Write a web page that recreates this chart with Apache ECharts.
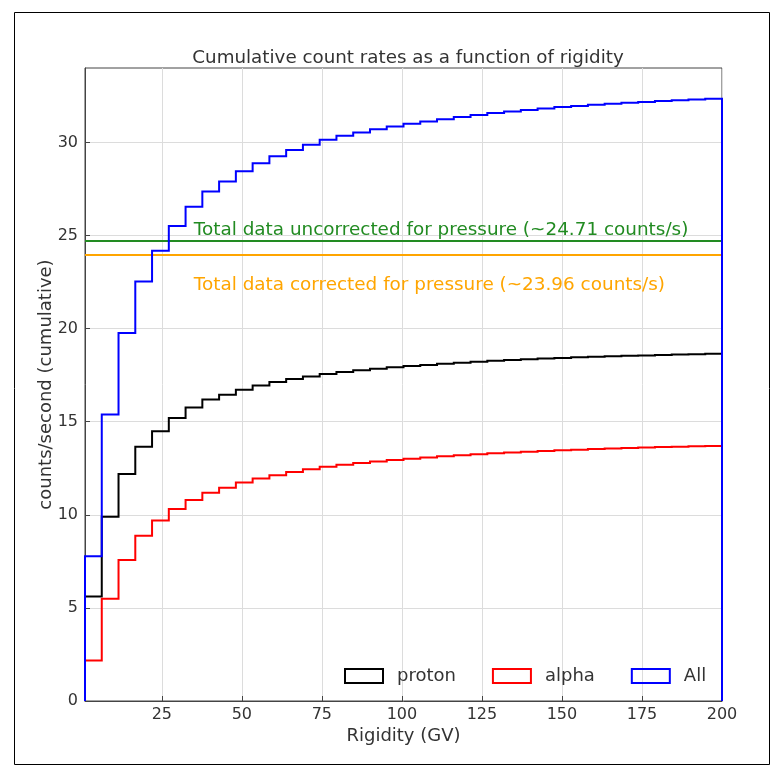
<!DOCTYPE html>
<html>
<head>
<meta charset="utf-8">
<script src="https://cdn.jsdelivr.net/npm/echarts@6/dist/echarts.min.js"></script>
<style>
  html, body { margin: 0; padding: 0; background: #fff; }
  #chart { width: 777px; height: 771px; }
</style>
</head>
<body>
<div id="chart"></div>
<script>
// Rigidity range covered by the cumulative histogram bins (GV)
const rigidityMin = 1;
const rigidityMax = 200;

// Cumulative count rates per bin (counts/s), 38 equal-width bins
const protonRates = [
  5.61, 9.90, 12.19, 13.65, 14.49, 15.20, 15.76, 16.19, 16.45, 16.72,
  16.94, 17.13, 17.29, 17.43, 17.57, 17.67, 17.76, 17.84, 17.92, 17.99,
  18.05, 18.11, 18.17, 18.22, 18.27, 18.31, 18.35, 18.39, 18.43, 18.46,
  18.49, 18.52, 18.54, 18.56, 18.59, 18.61, 18.63, 18.65
];
const alphaRates = [
  2.17, 5.49, 7.58, 8.88, 9.70, 10.31, 10.79, 11.18, 11.45, 11.74,
  11.95, 12.13, 12.30, 12.45, 12.58, 12.69, 12.78, 12.87, 12.94, 13.01,
  13.08, 13.14, 13.20, 13.26, 13.31, 13.35, 13.39, 13.43, 13.47, 13.50,
  13.53, 13.56, 13.59, 13.62, 13.64, 13.66, 13.68, 13.70
];
const allRates = [
  7.78, 15.39, 19.77, 22.53, 24.19, 25.51, 26.55, 27.37, 27.90, 28.46,
  28.89, 29.26, 29.59, 29.88, 30.15, 30.36, 30.54, 30.71, 30.86, 31.00,
  31.13, 31.25, 31.37, 31.48, 31.58, 31.66, 31.74, 31.82, 31.90, 31.96,
  32.02, 32.08, 32.13, 32.18, 32.23, 32.27, 32.31, 32.35
];

// Measured totals (counts/s)
const uncorrectedTotal = 24.71;
const correctedTotal = 23.96;

// Axis ticks
const xTicks = [25, 50, 75, 100, 125, 150, 175, 200];
const yTicks = [0, 5, 10, 15, 20, 25, 30];

const FONT = 'DejaVu Sans';
const TEXT = '#333';

// Outline of a step histogram: rises from zero at the first edge,
// runs across each bin, and drops back to zero at the last edge.
function stepOutline(values) {
  const w = (rigidityMax - rigidityMin) / values.length;
  const pts = [[rigidityMin, 0]];
  values.forEach((v, i) => {
    pts.push([rigidityMin + i * w, v]);
    pts.push([rigidityMin + (i + 1) * w, v]);
  });
  pts.push([rigidityMax, 0]);
  return pts;
}

// Each outline is drawn as one polyline so that the small risers of the
// upper bins are kept (the plain line series merges sub-2px segments).
function stepSeries(name, values, color) {
  const outline = stepOutline(values);
  return {
    name: name, type: 'custom', z: 3,
    coordinateSystem: 'cartesian2d',
    data: outline,
    encode: { x: 0, y: 1 },
    itemStyle: { color: color },
    renderItem: function (params, api) {
      if (params.dataIndex !== 0) return null;
      const pts = outline.map(p => api.coord(p));
      return {
        type: 'polyline',
        shape: { points: pts },
        style: { stroke: color, lineWidth: 2, fill: null, lineJoin: 'miter' },
        silent: true
      };
    }
  };
}

function levelSeries(name, value, color) {
  return {
    name: name, type: 'line',
    data: [[rigidityMin, value], [rigidityMax, value]],
    symbol: 'none', z: 2,
    lineStyle: { color: color, width: 2 },
    itemStyle: { color: color }
  };
}

function legendEntry(name, color) {
  return {
    name: name, icon: 'rect',
    itemStyle: { color: 'rgba(0,0,0,0)', borderColor: color, borderWidth: 2 }
  };
}

const chart = echarts.init(document.getElementById('chart'), null, { renderer: 'canvas' });

const option = {
  animation: false,
  backgroundColor: '#fff',
  textStyle: { fontFamily: FONT },
  title: {
    text: 'Cumulative count rates as a function of rigidity',
    left: 403, top: 44, textAlign: 'center',
    textStyle: { fontFamily: FONT, fontSize: 18.3, fontWeight: 'normal', color: TEXT }
  },
  grid: {
    left: 85, top: 68, width: 637, height: 633,
    show: true, borderColor: '#444', borderWidth: 1, backgroundColor: '#fff'
  },
  legend: {
    left: 344, top: 667, padding: 0,
    itemWidth: 38, itemHeight: 14, itemGap: 36,
    textStyle: { fontFamily: FONT, fontSize: 18, color: TEXT, padding: [0, 0, 0, 9] },
    data: [
      legendEntry('proton', '#000000'),
      legendEntry('alpha', '#ff0000'),
      legendEntry('All', '#0000ff')
    ]
  },
  xAxis: {
    type: 'value', min: rigidityMin, max: rigidityMax,
    name: 'Rigidity (GV)', nameLocation: 'middle', nameGap: 26, nameMoveOverlap: false,
    nameTextStyle: { fontFamily: FONT, fontSize: 18, color: TEXT },
    axisLine: { lineStyle: { color: '#444', width: 1 } },
    axisTick: { inside: true, length: 5, customValues: xTicks, lineStyle: { color: '#444' } },
    axisLabel: { customValues: xTicks, fontFamily: FONT, fontSize: 16, color: TEXT, margin: 6 },
    splitLine: { show: true, lineStyle: { color: '#dcdcdc', width: 1 } }
  },
  yAxis: {
    type: 'value', min: 0, max: 34,
    name: 'counts/second (cumulative)', nameLocation: 'middle', nameGap: 30, nameMoveOverlap: false,
    nameTextStyle: { fontFamily: FONT, fontSize: 18, color: TEXT },
    axisLine: { show: true, lineStyle: { color: '#444', width: 1 } },
    axisTick: { show: true, inside: true, length: 5, customValues: yTicks, lineStyle: { color: '#444' } },
    axisLabel: { customValues: yTicks, fontFamily: FONT, fontSize: 16, color: TEXT, margin: 7 },
    splitLine: { show: true, lineStyle: { color: '#dcdcdc', width: 1 } }
  },
  series: [
    levelSeries('uncorrected', uncorrectedTotal, '#228B22'),
    levelSeries('corrected', correctedTotal, '#FFA500'),
    stepSeries('proton', protonRates, '#000000'),
    stepSeries('alpha', alphaRates, '#ff0000'),
    stepSeries('All', allRates, '#0000ff')
  ]
};
chart.setOption(option);

// Annotations for the two totals, placed in data coordinates
const greenPos = chart.convertToPixel({ gridIndex: 0 }, [35, 25.31]);
const orangePos = chart.convertToPixel({ gridIndex: 0 }, [35, 22.31]);
chart.setOption({
  graphic: [
    {
      type: 'text', x: greenPos[0], y: greenPos[1], z: 10,
      style: {
        text: 'Total data uncorrected for pressure (~' + uncorrectedTotal + ' counts/s)',
        fill: '#228B22', font: '18.4px "' + FONT + '"', verticalAlign: 'middle', align: 'left'
      }
    },
    {
      type: 'text', x: orangePos[0], y: orangePos[1], z: 10,
      style: {
        text: 'Total data corrected for pressure (~' + correctedTotal + ' counts/s)',
        fill: '#FFA500', font: '18.4px "' + FONT + '"', verticalAlign: 'middle', align: 'left'
      }
    },
    {
      type: 'rect', z: 20, silent: true,
      shape: { x: 14.5, y: 12.5, width: 755, height: 752 },
      style: { fill: 'none', stroke: '#000', lineWidth: 1 }
    }
  ]
});
</script>
</body>
</html>
